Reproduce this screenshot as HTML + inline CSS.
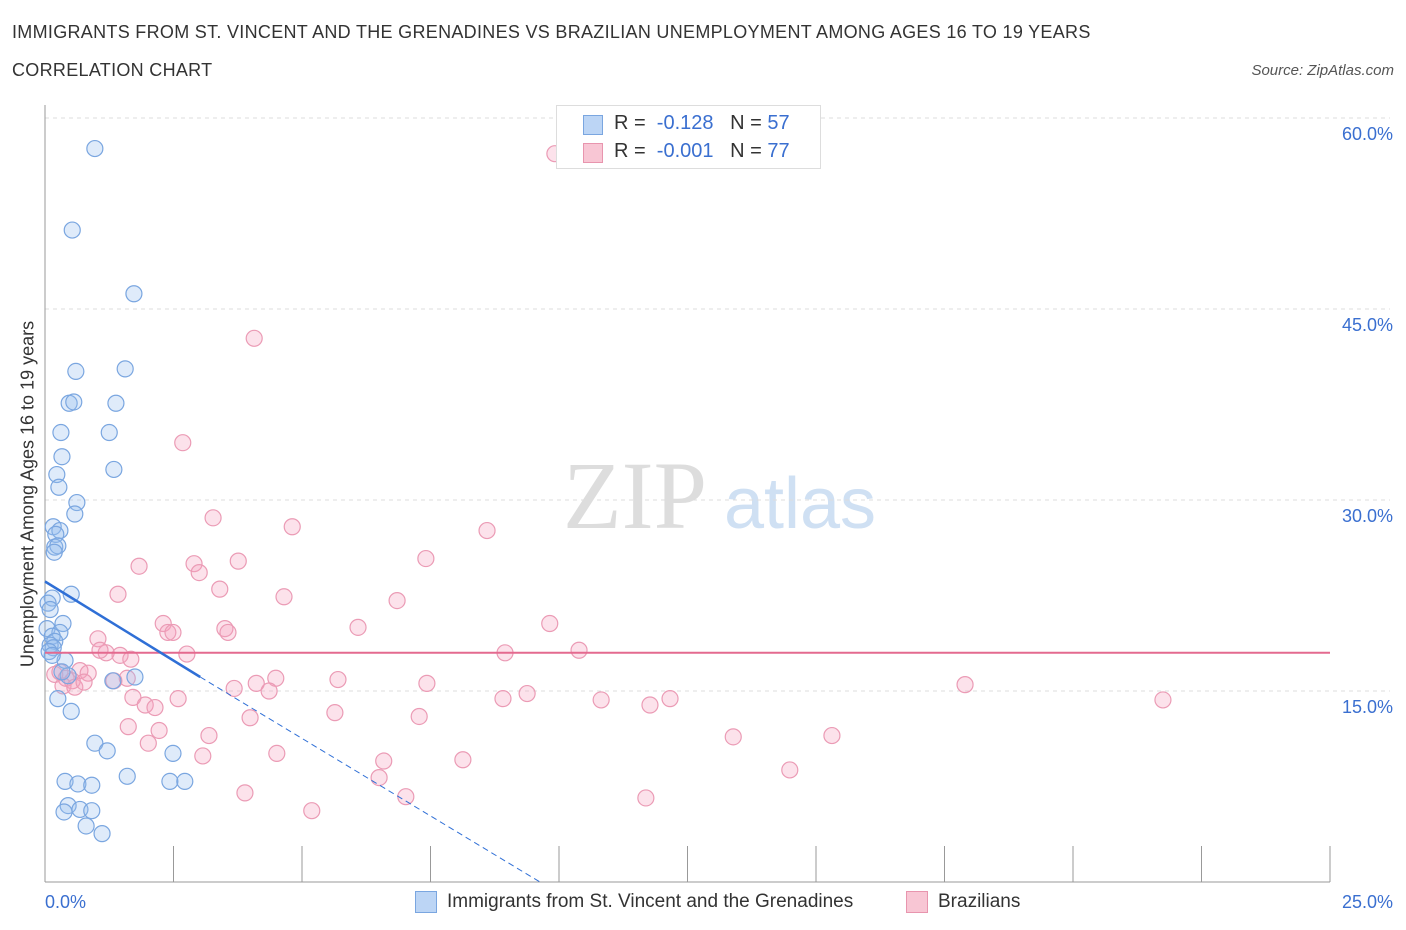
<!DOCTYPE html>
<html><head><meta charset="utf-8"><style>
body{margin:0;background:#fff;font-family:"Liberation Sans",sans-serif;}
#wrap{position:relative;width:1406px;height:930px;overflow:hidden;}
.t{position:absolute;white-space:nowrap;}
</style></head><body>
<div id="wrap">
<div class="t" style="left:12px;top:22px;font-size:18px;letter-spacing:0.3px;color:#333;">IMMIGRANTS FROM ST. VINCENT AND THE GRENADINES VS BRAZILIAN UNEMPLOYMENT AMONG AGES 16 TO 19 YEARS</div>
<div class="t" style="left:12px;top:60px;font-size:18px;letter-spacing:0.3px;color:#333;">CORRELATION CHART</div>
<div class="t" style="right:12px;top:62px;font-size:15px;color:#555;font-style:italic;">Source: ZipAtlas.com</div>
<svg id="svg" width="1406" height="930" style="position:absolute;left:0;top:0">
<text x="635" y="528" font-size="96" font-family="Liberation Serif" fill="#ddd" text-anchor="middle">ZIP</text>
<text x="800" y="528" font-size="72" fill="#cfe0f3" text-anchor="middle">atlas</text>
</svg>
<div class="t" style="left:28px;top:494px;font-size:18px;color:#333;transform:translate(-50%,-50%) rotate(-90deg);">Unemployment Among Ages 16 to 19 years</div>
<div style="position:absolute;left:556px;top:105px;width:263px;height:62px;border:1px solid #ddd;background:#fff;">
 <div style="position:absolute;left:26px;top:9px;width:18px;height:18px;background:#bcd5f5;border:1px solid #7aa6e0;"></div>
 <div class="t" style="left:57px;top:6px;font-size:20px;color:#333;">R = &nbsp;<span style="color:#3a6fd0">-0.128</span> &nbsp;&nbsp;N = <span style="color:#3a6fd0">57</span></div>
 <div style="position:absolute;left:26px;top:37px;width:18px;height:18px;background:#f8c6d4;border:1px solid #e895ae;"></div>
 <div class="t" style="left:57px;top:34px;font-size:20px;color:#333;">R = &nbsp;<span style="color:#3a6fd0">-0.001</span> &nbsp;&nbsp;N = <span style="color:#3a6fd0">77</span></div>
</div>
<div>
 <div style="position:absolute;left:415px;top:891px;width:20px;height:20px;background:#bcd5f5;border:1px solid #7aa6e0;"></div>
 <div class="t" style="left:447px;top:891px;font-size:19px;color:#333;">Immigrants from St. Vincent and the Grenadines</div>
 <div style="position:absolute;left:906px;top:891px;width:20px;height:20px;background:#f8c6d4;border:1px solid #e895ae;"></div>
 <div class="t" style="left:938px;top:891px;font-size:19px;color:#333;">Brazilians</div>
</div>
</div>
<script>
const xTicks=[0,2.5,5,7.5,10,12.5,15,17.5,20,22.5,25];
const yTicks=[15,30,45,60];
const yTickLabels=["15.0%","30.0%","45.0%","60.0%"];
const blueX=[0.97,0.53,1.73,0.6,1.56,0.47,0.56,1.38,0.31,1.25,0.33,1.34,0.23,0.27,0.62,0.58,0.16,0.29,0.21,0.19,0.25,0.18,0.51,0.14,0.06,0.1,0.35,0.04,0.29,0.14,0.19,0.1,0.16,0.08,0.39,0.45,1.75,1.32,0.25,0.51,0.97,1.21,2.49,0.39,0.64,0.91,1.6,2.43,2.72,0.45,0.37,0.68,0.91,0.8,1.11,0.14,0.33];
const blueY=[57.6,51.2,46.2,40.1,40.3,37.6,37.7,37.6,35.3,35.3,33.4,32.4,32,31,29.8,28.9,27.9,27.6,27.3,26.3,26.4,25.9,22.6,22.3,21.9,21.4,20.3,19.9,19.6,19.3,18.9,18.6,18.4,18.1,17.4,16.2,16.1,15.8,14.4,13.4,10.9,10.3,10.1,7.9,7.7,7.6,8.3,7.9,7.9,6,5.5,5.7,5.6,4.4,3.8,17.8,16.5];
const pinkX=[9.92,4.07,2.68,3.27,4.81,8.6,7.41,3.76,1.83,2.9,3,3.4,1.42,4.65,6.85,2.3,6.09,9.82,2.39,3.5,2.49,3.56,1.03,1.46,1.19,1.67,8.95,10.39,2.76,0.68,0.84,0.19,0.41,0.53,0.35,0.58,0.76,1.6,4.49,5.7,4.11,3.68,4.36,7.43,1.34,1.71,1.95,2.14,2.59,5.64,3.99,7.28,8.91,9.38,10.82,11.77,12.16,17.9,21.75,1.62,2.22,3.19,2.01,3.07,4.51,6.59,8.13,6.5,13.39,15.31,14.49,3.89,7.02,11.69,5.19,0.29,1.07];
const pinkY=[57.2,42.7,34.5,28.6,27.9,27.6,25.4,25.2,24.8,24.999,24.3,23,22.6,22.4,22.1,20.3,20,20.3,19.6,19.9,19.6,19.6,19.1,17.8,18,17.5,18,18.2,17.9,16.6,16.4,16.3,16,15.8,15.4,15.3,15.7,16,16,15.9,15.6,15.2,15,15.6,15.8,14.5,13.9,13.7,14.4,13.3,12.9,13,14.4,14.8,14.3,13.9,14.4,15.5,14.3,12.2,11.9,11.5,10.9,9.9,10.1,9.5,9.6,8.2,11.4,11.5,8.8,7,6.7,6.6,5.6,16.5,18.2];
const X0=45,X1=1330,Y0=882,Ypx=12.733;
const sx=v=>X0+(v/25)*(X1-X0), sy=v=>Y0-v*Ypx;
const svg=document.getElementById('svg');const NS='http://www.w3.org/2000/svg';
function mk(t,a){const e=document.createElementNS(NS,t);for(const k in a)e.setAttribute(k,a[k]);svg.appendChild(e);return e;}
yTicks.forEach((v,i)=>{const g=mk('line',{x1:X0,x2:1390,y1:sy(v),y2:sy(v),stroke:'#ddd','stroke-dasharray':'4,4'});


const t=mk('text',{x:1393,y:sy(v)+22,'font-size':18,fill:'#3a6fd0','text-anchor':'end'});t.textContent=yTickLabels[i];

});
const ax=mk('line',{x1:X0,x2:X0,y1:105,y2:Y0,stroke:'#999'});


const bx=mk('line',{x1:X0,x2:X1,y1:Y0,y2:Y0,stroke:'#999'});


xTicks.forEach(v=>{const l=mk('line',{x1:sx(v),x2:sx(v),y1:Y0-36,y2:Y0,stroke:'#999'});

});
[[0,"0.0%","start",45],[25,"25.0%","end",1393]].forEach(d=>{const t=mk('text',{x:d[3],y:908,'font-size':18,fill:'#3a6fd0','text-anchor':d[2]});t.textContent=d[1];

});
pinkX.forEach((v,i)=>{const c=mk('circle',{cx:sx(v),cy:sy(pinkY[i]),r:8,fill:'rgba(244,160,190,0.3)',stroke:'#eb9bb5','stroke-width':1.2});

});
blueX.forEach((v,i)=>{const c=mk('circle',{cx:sx(v),cy:sy(blueY[i]),r:8,fill:'rgba(150,190,240,0.3)',stroke:'#7aa6e0','stroke-width':1.2});

});
const pl=mk('line',{x1:sx(0),x2:sx(25),y1:sy(18),y2:sy(18),stroke:'#e46a8f','stroke-width':2});


const bl=mk('line',{x1:sx(0),x2:sx(3.02),y1:sy(23.6),y2:sy(16.1),stroke:'#2f6fd6','stroke-width':2.5});


const bd=mk('line',{x1:sx(3.02),x2:sx(9.63),y1:sy(16.1),y2:sy(0),stroke:'#2f6fd6','stroke-width':1,'stroke-dasharray':'6,4'});


</script>
</body></html>
